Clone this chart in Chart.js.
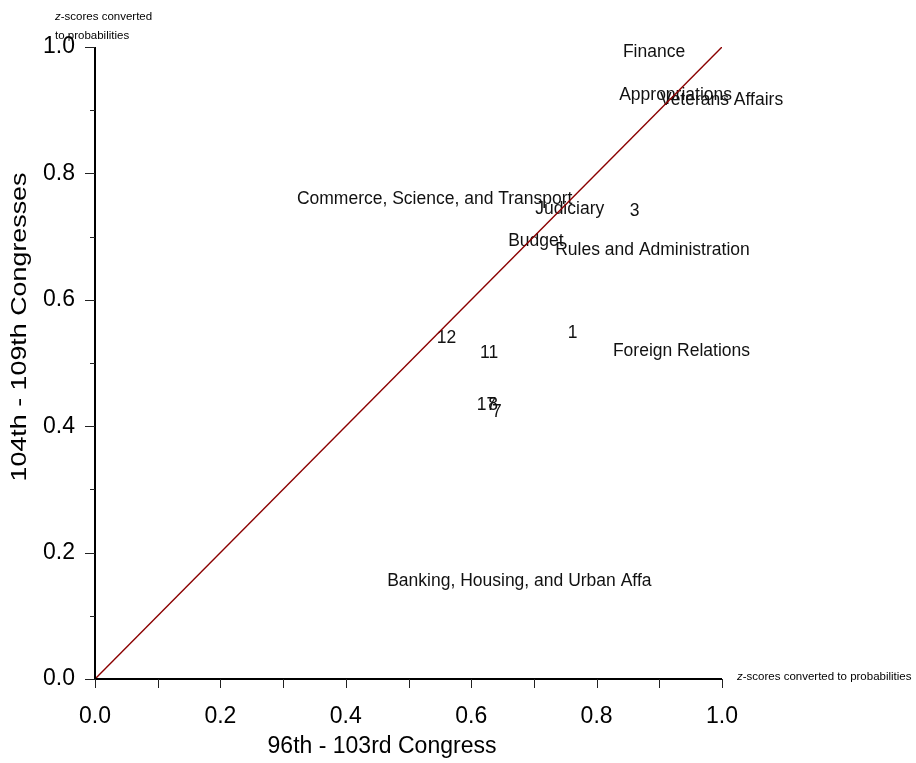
<!DOCTYPE html>
<html><head><meta charset="utf-8">
<script src="https://cdn.jsdelivr.net/npm/chart.js@4/dist/chart.umd.min.js"></script>
<style>html,body{margin:0;padding:0;background:#fff}</style>
</head><body>
<canvas id="c" width="916" height="763"></canvas>
<script>
// Senate committees: standardized scores (as probabilities), two periods
const committees = [
  "Finance", "Appropriations", "Veterans Affairs",
  "Commerce, Science, and Transport", "Judiciary", "3", "Budget",
  "Rules and Administration", "12", "1", "11", "Foreign Relations",
  "17", "8", "7", "Banking, Housing, and Urban Affa"
];
const period1 = [0.842, 0.836, 0.901, 0.322, 0.702, 0.853, 0.659, 0.734,
                 0.545, 0.754, 0.614, 0.826, 0.609, 0.627, 0.633, 0.466];
const period2 = [0.992, 0.924, 0.916, 0.759, 0.744, 0.741, 0.693, 0.679,
                 0.540, 0.547, 0.516, 0.519, 0.434, 0.434, 0.422, 0.155];
const axisTicks = [0, 0.2, 0.4, 0.6, 0.8, 1.0];
const minorStep = 0.1;
const diagonal = [{x: 0, y: 0}, {x: 1, y: 1}];

const FONT = '"Liberation Sans", Arial, sans-serif';

const points = period1.map((v, i) => ({x: v, y: period2[i]}));

function zNote(ctx, text, x, y) {
  ctx.save();
  ctx.translate(x, y);
  ctx.scale(1.15, 1);
  ctx.textBaseline = 'middle';
  ctx.textAlign = 'left';
  ctx.fillStyle = '#000';
  ctx.font = 'italic 10px ' + FONT;
  ctx.fillText('z', 0, 0);
  const w = ctx.measureText('z').width;
  ctx.font = '10px ' + FONT;
  ctx.fillText(text, w, 0);
  ctx.restore();
}

const decorations = {
  id: 'decorations',
  beforeDatasetsDraw(chart) {
    const ctx = chart.ctx;
    const meta = chart.getDatasetMeta(1);
    ctx.save();
    ctx.font = '17.5px ' + FONT;
    ctx.fillStyle = '#111';
    ctx.textAlign = 'left';
    ctx.textBaseline = 'middle';
    meta.data.forEach((pt, i) => {
      ctx.fillText(committees[i], pt.x, pt.y);
    });
    ctx.restore();
  },
  afterDraw(chart) {
    const ctx = chart.ctx;
    const xs = chart.scales.x, ys = chart.scales.y;
    const x0 = xs.getPixelForValue(0), x1 = xs.getPixelForValue(1);
    const y0 = ys.getPixelForValue(0), y1 = ys.getPixelForValue(1);
    ctx.save();
    // axis lines
    ctx.strokeStyle = '#000';
    ctx.lineWidth = 2;
    ctx.beginPath();
    ctx.moveTo(x0, y1); ctx.lineTo(x0, y0); ctx.lineTo(x1, y0);
    ctx.stroke();
    // tick marks: x every 0.1, y major 0.2 and minor 0.1
    ctx.lineWidth = 1;
    ctx.strokeStyle = '#222';
    for (let k = 0; k <= 10; k++) {
      const v = k * minorStep;
      const px = Math.round(xs.getPixelForValue(v)) + 0.5;
      ctx.beginPath(); ctx.moveTo(px, y0); ctx.lineTo(px, y0 + 9); ctx.stroke();
      const py = Math.round(ys.getPixelForValue(v)) + 0.5;
      const len = (k % 2 === 0) ? 10 : 5;
      ctx.beginPath(); ctx.moveTo(x0 - len, py); ctx.lineTo(x0, py); ctx.stroke();
    }
    // axis titles
    ctx.fillStyle = '#000';
    ctx.font = '23px ' + FONT;
    ctx.textAlign = 'center';
    ctx.textBaseline = 'middle';
    ctx.fillText('96th - 103rd Congress', 382, 747);
    ctx.save();
    ctx.translate(20, 327);
    ctx.rotate(-Math.PI / 2);
    ctx.scale(1.22, 1);
    ctx.font = '22px ' + FONT;
    ctx.fillText('104th - 109th Congresses', 0, 0);
    ctx.restore();
    // scale notes
    zNote(ctx, '-scores converted', 55, 17);
    ctx.font = '10px ' + FONT;
    ctx.save();
    ctx.translate(55, 36); ctx.scale(1.15, 1);
    ctx.textAlign = 'left'; ctx.textBaseline = 'middle';
    ctx.fillText('to probabilities', 0, 0);
    ctx.restore();
    zNote(ctx, '-scores converted to probabilities', 737, 677);
    ctx.restore();
  }
};

new Chart(document.getElementById('c'), {
  type: 'scatter',
  data: {
    datasets: [
      {
        type: 'line',
        data: diagonal,
        borderColor: '#8b0000',
        borderWidth: 1.4,
        pointRadius: 0,
        fill: false
      },
      {
        data: points,
        pointRadius: 0,
        pointHoverRadius: 0
      }
    ]
  },
  options: {
    responsive: false,
    animation: false,
    events: [],
    layout: {padding: {top: 47, right: 194, left: 0, bottom: 0}},
    plugins: {legend: {display: false}, tooltip: {enabled: false}},
    scales: {
      x: {
        type: 'linear', min: 0, max: 1,
        border: {display: false},
        grid: {display: false, drawTicks: false},
        afterBuildTicks(s) { s.ticks = axisTicks.map(v => ({value: v})); },
        afterFit(s) { s.height = 84; },
        ticks: {
          padding: 24, color: '#000',
          font: {family: FONT, size: 23},
          maxRotation: 0, autoSkip: false,
          callback: v => Number(v).toFixed(1)
        }
      },
      y: {
        type: 'linear', min: 0, max: 1,
        border: {display: false},
        grid: {display: false, drawTicks: false},
        afterBuildTicks(s) { s.ticks = axisTicks.map(v => ({value: v})); },
        afterFit(s) { s.width = 95; },
        ticks: {
          padding: 20, color: '#000',
          font: {family: FONT, size: 23},
          autoSkip: false,
          callback: v => Number(v).toFixed(1)
        }
      }
    }
  },
  plugins: [decorations]
});
</script>
</body></html>
